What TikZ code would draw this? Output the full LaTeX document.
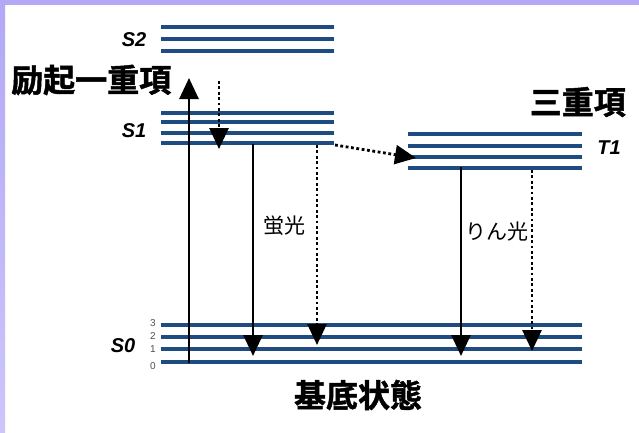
\documentclass[tikz,border=0pt]{standalone}
\usepackage{fontspec}
\setmainfont{Liberation Sans}
\newfontfamily\cjk{Noto Sans CJK JP}
\newfontfamily\cjkheavy{Noto Sans CJK JP Bold}[FakeBold=1.5]
\usetikzlibrary{arrows.meta}
\definecolor{lvl}{RGB}{30,76,128}
\definecolor{lavtop}{RGB}{178,168,246}
\definecolor{lavbot}{RGB}{204,198,250}
\definecolor{numgray}{RGB}{80,80,80}
\tikzset{
  level/.style={draw=lvl, line width=3.8pt},
  solidarr/.style={draw=black, line width=2.8pt, -{Triangle[width=19pt,length=21pt]}},
  dotarr/.style={draw=black, line width=2.8pt, dash pattern=on 2.8pt off 2.6pt, -{Triangle[width=19pt,length=21pt]}},
  bigjp/.style={font=\cjkheavy\fontsize{32}{34}\selectfont, inner sep=0pt},
  smalljp/.style={font=\cjk\fontsize{21}{23}\selectfont, inner sep=0pt},
  slabel/.style={font=\bfseries\itshape\fontsize{20}{22}\selectfont, inner sep=0pt},
  vnum/.style={font=\fontsize{10}{11}\selectfont, text=numgray, inner sep=0pt}
}
\begin{document}
\begin{tikzpicture}[x=1pt,y=-1pt]
\useasboundingbox (0,0) rectangle (639,432);
\fill[white] (0,0) rectangle (639,432);
\fill[lavtop] (0,0) rectangle (639,4.5);
\shade[top color=lavtop, bottom color=lavbot] (0,0) rectangle (5,432);

% S2 levels
\foreach \y in {27,39,51} \draw[level] (161,\y) -- (334,\y);
% S1 levels
\foreach \y in {113,122,133,143} \draw[level] (161,\y) -- (334,\y);
% T1 levels
\foreach \y in {134,146,157,168} \draw[level] (408,\y) -- (582,\y);
% S0 levels
\foreach \y in {325,337,349,362} \draw[level] (161,\y) -- (582,\y);

% labels
\node[slabel] (s2) at (134,40) {S2};
\node[slabel] (s1) at (134,131) {S1};
\node[slabel] (s0) at (123,346) {S0};
\node[slabel] (t1) at (609,148) {T1};
\node[vnum] (n3) at (153,323) {3};
\node[vnum] (n2) at (153,336) {2};
\node[vnum] (n1) at (153,349) {1};
\node[vnum] (n0) at (153,366) {0};

\node[bigjp, anchor=west] (excited) at (11,80) {励起一重項};
\node[bigjp, anchor=east] (triplet) at (626,102) {三重項};
\node[bigjp] (ground) at (358,395) {基底状態};
\node[smalljp] (fluor) at (284,226) {蛍光};
\node[smalljp] (phos) at (497,232) {りん光};

% arrow endpoints
\coordinate (ex0) at (189,363);
\coordinate (ex1) at (189,78);
\coordinate (ic0) at (219,81);
\coordinate (ic1) at (219,149);
\coordinate (fl0) at (253,144);
\coordinate (fl1) at (253,356);
\coordinate (nr0) at (317,145);
\coordinate (nr1) at (317,345);
\coordinate (is0) at (335,145);
\coordinate (is1) at (416,158);
\coordinate (ph0) at (461,167);
\coordinate (ph1) at (461,356);
\coordinate (tn0) at (532,170);
\coordinate (tn1) at (532,351);

\draw[solidarr] (ex0) -- (ex1);
\draw[dotarr] (ic0) -- (ic1);
\draw[solidarr] (fl0) -- (fl1);
\draw[dotarr] (nr0) -- (nr1);
\draw[dotarr] (is0) -- (is1);
\draw[solidarr] (ph0) -- (ph1);
\draw[dotarr] (tn0) -- (tn1);
\end{tikzpicture}
\end{document}
